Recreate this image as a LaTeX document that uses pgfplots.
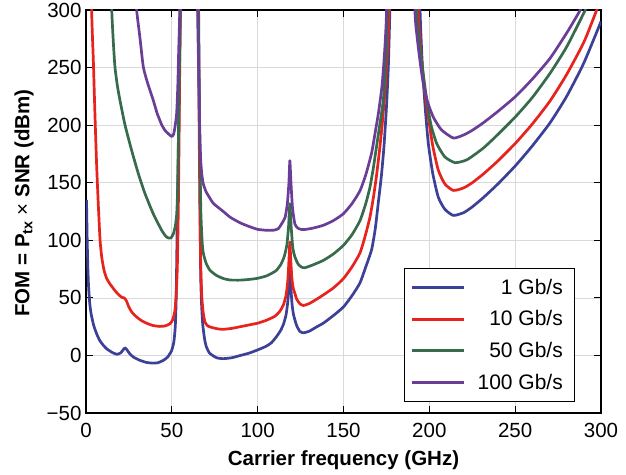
\documentclass[border=0pt]{standalone}
\usepackage{pgfplots}
\pgfplotsset{compat=1.18}
\usepackage{fontspec}
\setmainfont{Liberation Sans}
\definecolor{cblue}{RGB}{60,64,150}
\definecolor{cred}{RGB}{230,35,28}
\definecolor{cgreen}{RGB}{56,106,76}
\definecolor{cpurple}{RGB}{106,62,150}
\begin{document}
\begin{tikzpicture}
\begin{axis}[name=ax,
  scale only axis, width=515pt, height=403pt,
  xmin=0, xmax=300, ymin=-50, ymax=300,
  xtick={0,50,...,300}, ytick={-50,0,...,300},
  yticklabels={−50,0,50,100,150,200,250,300},
  grid=major, major grid style={color=black!15, line width=0.7pt},
  axis line style={line width=1.3pt},
  tick style={black, line width=1.1pt}, major tick length=7pt,
  tick label style={font=\fontsize{20.5}{20.5}\selectfont, inner sep=0pt},
  /pgf/number format/assume math mode=true,
  yticklabel style={xshift=-4.3pt},
  xticklabel style={yshift=-9.7pt},
  xlabel={\bfseries Carrier frequency (GHz)},
  ylabel={\bfseries FOM = P\textsubscript{tx} {\mdseries ×} SNR (dBm)},
  every axis x label/.style={at={(axis description cs:0.5,0)}, anchor=base, yshift=-52pt, font=\fontsize{20.5}{20.5}\selectfont},
  every axis y label/.style={at={(axis description cs:-0.1204,0.521)}, anchor=center, rotate=90, font=\fontsize{20.5}{20.5}\selectfont},
  legend cell align=right,
  legend image code/.code={\draw[#1, line width=3pt] (0pt,0pt) -- (52pt,0pt);},
  legend style={at={(axis description cs:0.6175,0.0275)}, anchor=south west,
    font=\fontsize{21}{21}\selectfont, draw=black, line width=1.2pt,
    inner xsep=6pt, inner ysep=8.5pt, row sep=11pt,
    nodes={inner xsep=6pt, inner ysep=2pt},
    /tikz/every odd column/.append style={column sep=6pt}},
  every axis plot/.append style={line width=2.7pt, line join=round, smooth, tension=0.35},
]
\addplot[cblue] coordinates {
(0.3,135)(0.7,100)(1.1,75)(1.5,60)(2.2,45)(3,36)(4.5,26)(6.2,18.8)(8,13)(10,9)(12,5.8)
(15,2.8)(17.9,1)(20,2)(21.5,4.5)(22.7,6.7)(24,4.5)(25.5,1.5)(27.6,-1.4)(31,-4)(35,-6)
(39,-6.7)(42,-6.3)(45,-4.3)(47.5,-1.5)(49.9,4.3)(51.2,12)(52,25)(52.5,47)(53,100)
(53.5,150)(54,200)(54.5,250)(55,300)(56,420)(60,500)(64.5,420)
(65.6,300)(66.1,200)(66.5,120)(66.8,70)(67.3,45)(68,27)(69,15)(70,8)(72,2)(76,-2)
(80,-2.8)(85,-2)(90,0)(95,2)(100,4.8)(105,8)(108,11)(111,16.4)(113.5,22)(115,27)
(116.5,35)(117.5,46)(118.2,60)(118.75,75.5)(119.3,60)(120,45)(120.8,36)(121.7,30.8)
(122.7,26)(124.5,21)(126.6,19.6)(130,21)(134,24.5)(138.2,28)(144,34.5)(149.9,42)
(155,52)(159.6,63)(163,77)(166.4,92)(168.5,110)(170.3,133)(172,155)(173.5,180)
(175,215)(176.1,250)(177,300)(178,400)(183,500)(193.5,400)(194.6,300)(196,250)
(197.6,215)(199.4,184)(202,158)(205.2,137.5)(209,127)(214,121.6)(220,124)
(225,129)(231.4,137)(240,149)(250.3,165)(260,182)(270.3,202)(280,225)
(290,254)(300,290)};
\addlegendentry{1 Gb/s}
\addplot[cred] coordinates {
(2.7,400)(3.3,300)(4.3,255)(5.2,210)(6.2,165)(7.2,130)(8.2,100)(9.2,85)(10.5,74)(12,67)(14,62)
(16.5,57)(18.5,53.5)(20.8,50.5)(22.2,50)(23.5,47.5)(25,42)(26.5,38)(28.5,34.7)
(32,30.5)(35.3,28)(39,26)(43,25.2)(46,25.6)(48.9,27.5)(50.5,31)(51.8,39)(52.6,55)
(53.2,77)(53.8,130)(54.3,200)(54.9,300)(55.7,420)(60,500)(64.5,420)
(65.4,300)(65.9,200)(66.4,120)(66.9,75)(67.5,50)(68.3,37)(69.3,29)(71,25.5)
(74,24)(77,23)(80,22.7)(85,23.5)(90,25)(95,26.5)(100,28)(105,30.5)(110,34)
(113,38.5)(115,44)(116.5,52)(117.5,64)(118.2,82)(118.75,98.5)(119.3,82)(120,66)
(120.8,58)(121.7,53.8)(122.7,49)(124.5,45)(126.6,43.4)(130,45)(134,48.5)
(138.2,52.5)(144,58.5)(149.9,66.6)(155,77)(159.6,89)(162.5,103)(165.4,120)
(167.5,138)(169.3,157)(170.9,177)(172.5,200)(174.2,230)(175.5,262)(176.6,300)
(177.5,400)(183,500)(192.5,400)(193.5,300)(195,265)(197,233)(199.4,207)(202,182)
(205.2,161)(209,149)(214,143.3)(220,145.5)(225,150)(231.4,157.5)(240,169)(250.3,184.5)
(260,201)(270.3,221)(280,244)(290,272)(297.5,300)(300,310)};
\addlegendentry{10 Gb/s}
\addplot[cgreen] coordinates {
(14.3,350)(15,300)(16,270)(16.9,250)(18.3,234)(19.8,221.5)(22.7,200.3)(26.6,178)
(30.5,157.8)(34.4,140.4)(39.2,123)(44.1,108.6)(46.5,103.5)(48,102)(49.5,102)(50.9,105.7)
(52,112)(52.8,122)(53.3,140)(53.8,185)(54.3,240)(54.9,300)(55.7,420)(60,500)
(64.5,420)(65.4,300)(65.9,230)(66.4,170)(66.9,125)(67.6,100)(68.3,89)(70,80)
(72.2,74)(76,69.5)(80,66.8)(84,65.5)(90,65.4)(95,66)(100,67)(105,69)(109,72)
(111,74)(113.5,79)(115.5,86)(117,96)(118,112)(118.75,131.7)(119.5,112)(120.5,93)
(121.7,85.6)(123.5,79.5)(125.5,76.7)(127.6,76.2)(132,78.5)(138.2,82.5)(144,88)
(149.9,95.5)(155,105)(159.6,117)(163,132)(165.4,146)(167.3,162)(168.9,178)
(171,199)(173.2,222)(174.6,255)(175.7,300)(176.7,400)(183,500)(191.5,400)
(192.6,300)(194,275)(196,250)(198.5,221.5)(201,200)(204.3,184)(209,172.5)
(215,167.4)(222,170)(231.4,180)(240,192)(250.3,207.5)(260,224)(270.3,245)
(280,268)(290.7,299.6)(293,310)};
\addlegendentry{50 Gb/s}
\addplot[cpurple] coordinates {
(29,320)(29.5,300)(31.5,275)(33.4,250.4)(36,236)(39.2,221.5)(41.5,210)(44.1,200.3)
(46,195.5)(48,192.5)(49.9,190.2)(51,192)(51.8,198)(52.8,210)(53.5,235)(54,265)
(54.6,300)(55.5,420)(60,500)
(64.5,420)(65,300)(65.6,250)(66.2,200)(66.8,170)(67.5,157)(68.3,149)(70,142)
(72,137)(74.2,132)(80,125)(84,120)(90,115)(95,112)(100,109.5)(105,108.7)
(109,108.7)(112,110)(114,114.4)(116,120)(117.3,132)(118.2,150)(118.75,169.2)
(119.4,150)(120.3,128)(121.7,114)(123.5,110.5)(125.5,109.4)(127.6,109.4)
(132,110.5)(138.2,113)(144,117)(149.9,123)(155,132)(159.6,143)(163,157)
(166.4,176)(168.5,194)(170.5,212)(172.5,235)(174,265)(175.1,300)(176,400)
(183,500)(190.5,400)(191.6,300)(193,275)(194.8,253)(196.5,236)(199,220)
(202.3,207)(207,196)(214,188.8)(220,191.5)(225,195.5)(231.4,202)(240,212)
(250.3,225)(260,240)(270.3,258)(280,280)(286.8,297)(290,306)};
\addlegendentry{100 Gb/s}
\end{axis}
\pgfresetboundingbox
\path[use as bounding box] ([xshift=-86pt,yshift=-61pt]ax.south west) rectangle ([xshift=25pt,yshift=10pt]ax.north east);
\end{tikzpicture}
\end{document}
